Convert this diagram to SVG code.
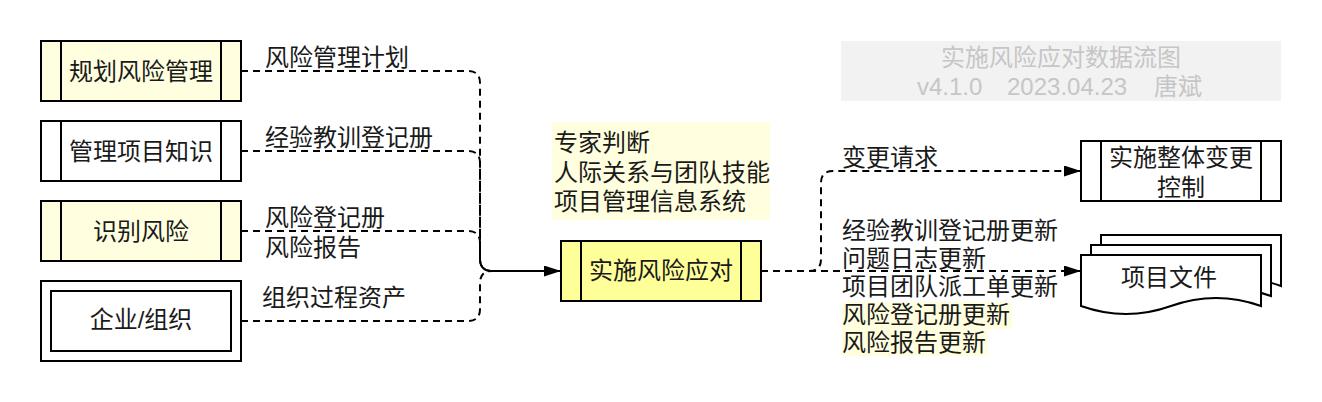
<svg xmlns="http://www.w3.org/2000/svg" width="1322" height="402" viewBox="0 0 1322 402">
<style>
text{font-family:"Liberation Sans","Noto Sans CJK SC",sans-serif;font-size:24px;fill:#1a1a1a}
.c{text-anchor:middle}
.box{stroke:#000;stroke-width:2}
.lt{fill:#ffffe0}
.wh{fill:#fff}
.core{fill:#ffff99}
.div{stroke:#000;stroke-width:2}
.edge{fill:none;stroke:#000;stroke-width:2;stroke-dasharray:7 5}
.solid{fill:none;stroke:#000;stroke-width:2}
.title{fill:#c6c6c6}
.hl{fill:#ffffe0}
</style>
<defs>
<marker id="arr" markerUnits="userSpaceOnUse" markerWidth="18" markerHeight="12" refX="17" refY="5.5" orient="auto">
<path d="M0,0 L17,5.5 L0,11 Z" fill="#000"/>
</marker>
</defs>
<rect width="1322" height="402" fill="#fff"/>

<g id="title">
<rect x="841" y="41" width="440" height="60" fill="#f2f2f2"/>
<text class="c title" x="1061" y="66">实施风险应对数据流图</text>
<text class="title" y="94.5"><tspan x="917">v4.1.0</tspan><tspan x="1007">2023.04.23</tspan><tspan x="1154">唐斌</tspan></text>
</g>

<g id="connectors">
<path class="edge" d="M241,71 H468 Q480,71 480,83 V259 Q480,271 492,271 H545"/>
<path class="edge" d="M241,151 H468 Q480,151 480,163 V259 Q480,271 492,271 H545"/>
<path class="edge" d="M241,231 H468 Q480,231 480,243 V259 Q480,271 492,271 H545"/>
<path class="edge" d="M241,321 H468 Q480,321 480,309 V283 Q480,271 492,271 H545"/>
<path class="solid" d="M492,271 H561" marker-end="url(#arr)"/>
<path class="edge" d="M761,271 H1081" marker-end="url(#arr)"/>
<path class="edge" d="M761,271 H809 Q821,271 821,259 V183 Q821,171 833,171 H1081" marker-end="url(#arr)"/>
<text x="265" y="66">风险管理计划</text>
<text x="265" y="146">经验教训登记册</text>
<text x="265" y="226">风险登记册</text>
<text x="265" y="256">风险报告</text>
<text x="262" y="306">组织过程资产</text>
<text x="842" y="166">变更请求</text>
<rect class="hl" x="842" y="302" width="170" height="27"/>
<rect class="hl" x="842" y="329" width="146" height="27"/>
<text x="842" y="239">经验教训登记册更新</text>
<text x="842" y="267">问题日志更新</text>
<text x="842" y="295">项目团队派工单更新</text>
<text x="842" y="323">风险登记册更新</text>
<text x="842" y="351">风险报告更新</text>
</g>

<g id="node-plan">
<rect class="box lt" x="41" y="41" width="200" height="60"/>
<line class="div" x1="61" y1="41" x2="61" y2="101"/>
<line class="div" x1="221" y1="41" x2="221" y2="101"/>
<text class="c" x="141" y="80">规划风险管理</text>
</g>

<g id="node-knowledge">
<rect class="box wh" x="41" y="121" width="200" height="60"/>
<line class="div" x1="61" y1="121" x2="61" y2="181"/>
<line class="div" x1="221" y1="121" x2="221" y2="181"/>
<text class="c" x="141" y="160">管理项目知识</text>
</g>

<g id="node-identify">
<rect class="box lt" x="41" y="201" width="200" height="60"/>
<line class="div" x1="61" y1="201" x2="61" y2="261"/>
<line class="div" x1="221" y1="201" x2="221" y2="261"/>
<text class="c" x="141" y="240">识别风险</text>
</g>

<g id="node-org">
<rect class="box wh" x="41" y="281" width="200" height="80"/>
<rect class="box wh" x="51" y="291" width="180" height="60"/>
<text class="c" x="141" y="328">企业/组织</text>
</g>

<g id="tools">
<rect class="lt" x="552" y="122" width="218" height="98"/>
<text x="554" y="151">专家判断</text>
<text x="554" y="181">人际关系与团队技能</text>
<text x="554" y="210">项目管理信息系统</text>
</g>

<g id="node-implement">
<rect class="box core" x="561" y="241" width="200" height="60"/>
<line class="div" x1="581" y1="241" x2="581" y2="301"/>
<line class="div" x1="741" y1="241" x2="741" y2="301"/>
<text class="c" x="661" y="279">实施风险应对</text>
</g>

<g id="node-change">
<rect class="box wh" x="1081" y="141" width="200" height="60"/>
<line class="div" x1="1101" y1="141" x2="1101" y2="201"/>
<line class="div" x1="1261" y1="141" x2="1261" y2="201"/>
<text class="c" x="1181" y="166">实施整体变更</text>
<text class="c" x="1181" y="196">控制</text>
</g>

<g id="node-docs">
<path class="box wh" d="M1101,235 H1281 V286 Q1236,270 1191,286 Q1146,302 1101,286 Z"/>
<path class="box wh" d="M1091,245 H1271 V296 Q1226,280 1181,296 Q1136,312 1091,296 Z"/>
<path class="box wh" d="M1081,255 H1261 V306 Q1216,290 1171,306 Q1126,322 1081,306 Z"/>
<text class="c" x="1169" y="286">项目文件</text>
</g>
</svg>
